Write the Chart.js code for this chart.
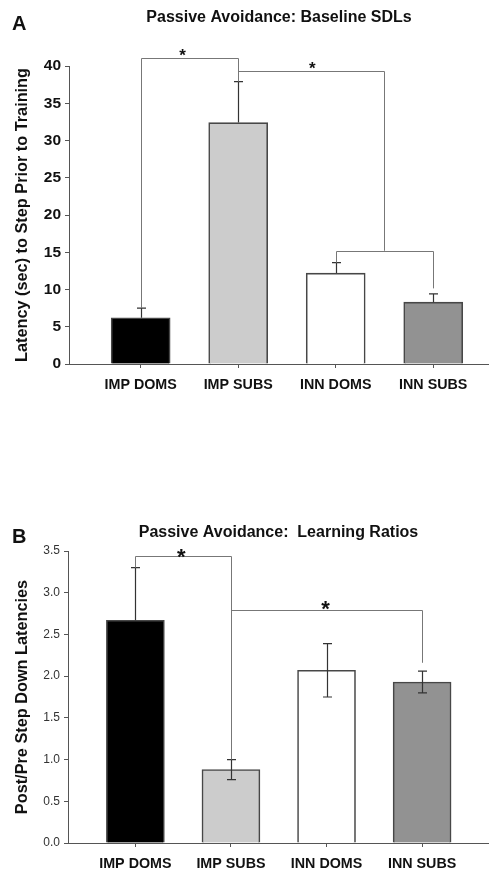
<!DOCTYPE html>
<html>
<head>
<meta charset="utf-8">
<script src="https://cdn.jsdelivr.net/npm/chart.js@4.4.1/dist/chart.umd.min.js"></script>
<style>
  html, body { margin: 0; padding: 0; background: #fff; }
  .panel { position: absolute; left: 0; width: 489px; }
  #boxA { top: 0; height: 400px; }
  #boxB { top: 440px; height: 429px; }
</style>
</head>
<body>
<div class="panel" id="boxA"><canvas id="chartA"></canvas></div>
<div class="panel" id="boxB"><canvas id="chartB"></canvas></div>
<script>
const categories = ['IMP DOMS', 'IMP SUBS', 'INN DOMS', 'INN SUBS'];

// panel A: baseline step-down latencies (sec)
const baselineMeans = [6.2, 32.4, 12.2, 8.3];
const baselineErr = [1.3, 5.5, 1.4, 1.1];

// panel B: post/pre learning ratios
const ratioMeans = [2.67, 0.88, 2.07, 1.93];
const ratioErr = [0.63, 0.12, 0.32, 0.13];

const barColors = ['#000000', '#cccccc', '#ffffff', '#929292'];

// significance brackets: x1,x2 = category index, y = bar height of bracket, l/r = leg ends
const baselineBrackets = [
  { x1: 0, x2: 1, y: 41.1, l: 7.5, r: 37.9 },
  { x1: 1, x2: 2.5, y: 39.35, l: 39.35, r: 15.2 },
  { x1: 2, x2: 3, y: 15.2, l: 13.6, r: 10.15 }
];
const baselineStars = [{ x: 0.43, y: 41.7 }, { x: 1.76, y: 40.0 }];

const ratioBrackets = [
  { x1: 0, x2: 1, y: 3.44, l: 3.3, r: 1.0 },
  { x1: 1, x2: 3, y: 2.79, l: 2.79, r: 2.16 }
];
const ratioStars = [{ x: 0.48, y: 3.47 }, { x: 1.99, y: 2.85 }];

const FONT = '"Liberation Sans", Arial, sans-serif';
Chart.defaults.font.family = FONT;
Chart.defaults.color = '#111';

const annotPlugin = {
  id: 'annot',
  afterDatasetsDraw(chart, args, opts) {
    const { ctx } = chart;
    const xs = chart.scales.x;
    const ys = chart.scales.y;
    ctx.save();
    // error bars
    ctx.strokeStyle = '#333';
    ctx.lineWidth = 1.2;
    opts.means.forEach((m, i) => {
      const x = Math.round(xs.getPixelForValue(i)) + 0.5;
      const top = ys.getPixelForValue(m + opts.err[i]);
      const both = opts.both && barColors[i] !== '#000000';
      const low = both ? ys.getPixelForValue(m - opts.err[i]) : ys.getPixelForValue(m);
      ctx.beginPath();
      ctx.moveTo(x, low);
      ctx.lineTo(x, top);
      ctx.moveTo(x - 4.5, top);
      ctx.lineTo(x + 4.5, top);
      if (both) {
        ctx.moveTo(x - 4.5, low);
        ctx.lineTo(x + 4.5, low);
      }
      ctx.stroke();
    });
    // brackets
    ctx.strokeStyle = '#777';
    ctx.lineWidth = 1;
    opts.brackets.forEach(b => {
      const x1 = Math.round(xs.getPixelForValue(b.x1)) + 0.5;
      const x2 = Math.round(xs.getPixelForValue(b.x2)) + 0.5;
      const y = Math.round(ys.getPixelForValue(b.y)) + 0.5;
      ctx.beginPath();
      ctx.moveTo(x1, ys.getPixelForValue(b.l));
      ctx.lineTo(x1, y);
      ctx.lineTo(x2, y);
      ctx.lineTo(x2, ys.getPixelForValue(b.r));
      ctx.stroke();
    });
    // stars
    ctx.fillStyle = '#111';
    ctx.font = 'bold ' + opts.starSize + 'px ' + FONT;
    ctx.textAlign = 'center';
    ctx.textBaseline = 'middle';
    opts.stars.forEach(s => {
      ctx.fillText('*', xs.getPixelForValue(s.x), ys.getPixelForValue(s.y) + opts.starSize * 0.2);
    });
    // panel letter
    ctx.font = 'bold 20px ' + FONT;
    ctx.textAlign = 'left';
    ctx.fillText(opts.letter, opts.letterX, opts.letterY);
    ctx.restore();
  }
};

function makeChart(id, cfg) {
  return new Chart(document.getElementById(id), {
    type: 'bar',
    data: {
      datasets: [{
        data: cfg.means.map((v, i) => ({ x: i, y: v })),
        backgroundColor: barColors,
        borderColor: '#474747',
        borderWidth: 1.6,
        barThickness: cfg.barWidth
      }]
    },
    options: {
      responsive: true,
      maintainAspectRatio: false,
      animation: false,
      layout: { padding: 0 },
      plugins: {
        legend: { display: false },
        tooltip: { enabled: false },
        title: {
          display: true,
          text: cfg.title,
          fullSize: false,
          color: '#111',
          font: { size: 16, weight: 'bold' },
          padding: cfg.titlePad
        },
        annot: {
          means: cfg.means,
          err: cfg.err,
          both: cfg.both,
          brackets: cfg.brackets,
          stars: cfg.stars,
          starSize: cfg.starSize,
          letter: cfg.letter,
          letterX: 12,
          letterY: cfg.letterY
        }
      },
      scales: {
        x: {
          type: 'linear',
          min: cfg.xMin,
          max: cfg.xMax,
          offset: false,
          afterBuildTicks: s => { s.ticks = categories.map((c, i) => ({ value: i })); },
          afterFit: s => { s.height = cfg.xHeight; },
          ticks: {
            autoSkip: false,
            maxRotation: 0,
            padding: cfg.xPad,
            color: '#111',
            font: { size: 14.3, weight: 'bold' },
            callback: v => categories[v]
          },
          grid: { offset: false, drawOnChartArea: false, tickLength: 4, color: '#555' },
          border: { color: '#555', width: 1 }
        },
        y: {
          min: 0,
          max: cfg.yMax,
          afterFit: s => { s.width = cfg.yWidth; },
          ticks: {
            stepSize: cfg.yStep,
            padding: 4,
            color: cfg.tickColor,
            font: cfg.tickFont,
            callback: v => cfg.tickFmt(v)
          },
          grid: { drawOnChartArea: false, tickLength: 4, color: '#555' },
          border: { color: '#555', width: 1 },
          title: {
            display: true,
            text: cfg.yTitle,
            color: '#111',
            font: { size: 16.3, weight: 'bold' },
            padding: { top: 13, bottom: 0 }
          }
        }
      }
    },
    plugins: [annotPlugin]
  });
}

makeChart('chartA', {
  title: 'Passive Avoidance: Baseline SDLs',
  titlePad: { top: 8, bottom: 38.8 },
  means: baselineMeans, err: baselineErr, both: false,
  brackets: baselineBrackets, stars: baselineStars, starSize: 17,
  letter: 'A', letterY: 24,
  barWidth: 59,
  xMin: -0.735, xMax: 3.572, xHeight: 36, xPad: 8,
  yMax: 40, yStep: 5, yWidth: 69,
  tickColor: '#111', tickFont: { size: 15.5, weight: 'bold' },
  tickFmt: v => String(v),
  yTitle: 'Latency (sec) to Step Prior to Training'
});

makeChart('chartB', {
  title: 'Passive Avoidance:  Learning Ratios',
  titlePad: { top: 83, bottom: 8.8 },
  means: ratioMeans, err: ratioErr, both: true,
  brackets: ratioBrackets, stars: ratioStars, starSize: 22,
  letter: 'B', letterY: 97,
  barWidth: 58,
  xMin: -0.705, xMax: 3.70, xHeight: 26, xPad: 8.5,
  yMax: 3.5, yStep: 0.5, yWidth: 68,
  tickColor: '#333', tickFont: { size: 12 },
  tickFmt: v => v.toFixed(1),
  yTitle: 'Post/Pre Step Down Latencies'
});
</script>
</body>
</html>
